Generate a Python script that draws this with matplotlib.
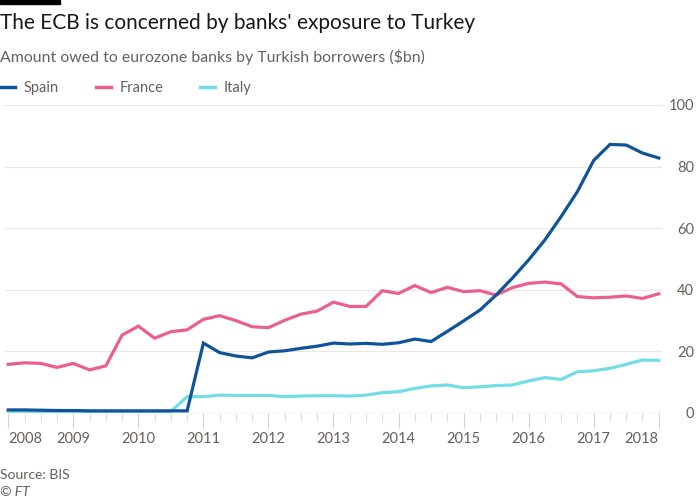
import numpy as np
import pandas as pd
import matplotlib
matplotlib.use("Agg")
import matplotlib.pyplot as plt
from matplotlib.lines import Line2D
from matplotlib.patches import Rectangle

plt.rcParams['font.family'] = ['Lato', 'DejaVu Sans']

# quarterly, 2008 Q1 .. 2018 Q1 ($bn)
quarters = pd.period_range('2008Q1', '2018Q1', freq='Q')

spain = [1.0, 1.0, 0.9, 0.8, 0.8, 0.7, 0.7, 0.7, 0.7, 0.7, 0.7, 0.7,
         22.7, 19.6, 18.5, 17.9, 19.8, 20.2, 21.0, 21.7, 22.7, 22.4, 22.6,
         22.3, 22.8, 24.0, 23.2, 26.5, 29.9, 33.4, 38.3, 43.8, 49.7, 56.2,
         63.8, 71.9, 82.0, 87.2, 87.0, 84.4, 82.8]
france = [15.8, 16.3, 16.1, 14.8, 16.1, 14.0, 15.3, 25.3, 28.2, 24.3, 26.4,
          27.0, 30.4, 31.6, 30.0, 28.0, 27.7, 30.1, 32.1, 33.1, 36.0, 34.6,
          34.6, 39.7, 38.8, 41.4, 39.1, 40.8, 39.4, 39.7, 38.3, 40.7, 42.1,
          42.5, 41.9, 37.8, 37.4, 37.6, 38.0, 37.2, 38.7]
italy = [0.6, 0.6, 0.5, 0.5, 0.5, 0.5, 0.5, 0.5, 0.5, 0.5, 0.5, 5.3, 5.3,
         5.8, 5.7, 5.7, 5.7, 5.3, 5.5, 5.6, 5.6, 5.5, 5.8, 6.6, 6.9, 8.0,
         8.8, 9.1, 8.2, 8.5, 8.9, 9.1, 10.4, 11.5, 10.9, 13.4, 13.7, 14.5,
         15.8, 17.2, 17.1]

series_names = ['Spain', 'France', 'Italy']
series_colors = ['#0f5499', '#eb5f8e', '#72dde8']
yticks = [0, 20, 40, 60, 80, 100]

GRAY = '#66605c'
GRID = '#ede6de'

fig = plt.figure(figsize=(7, 5), dpi=100)
fig.patch.set_facecolor('white')
ax = fig.add_axes([5 / 700, 87 / 500, 657 / 700, 308 / 500])

x = np.arange(len(quarters))
for vals, name, col in zip([spain, france, italy], series_names, series_colors):
    ax.plot(x, vals, color=col, lw=2.3, label=name, solid_joinstyle='miter')
# Spain sits on top of Italy at the start
ax.lines[0].set_zorder(4)

ax.set_xlim(-0.2, len(quarters) - 0.8)
ax.set_ylim(0, 100)

for s in ax.spines.values():
    s.set_visible(False)
ax.axhline(0, color='#d9cfc5', lw=1, zorder=0)
for t in yticks[1:]:
    ax.axhline(t, color=GRID, lw=0.8, zorder=0)

# y labels on the right, right-aligned
ax.yaxis.tick_right()
ax.set_yticks(yticks)
ax.set_yticklabels([str(t) for t in yticks])
ax.tick_params(axis='y', length=0, pad=23, labelsize=10.5, labelcolor=GRAY)
for lab in ax.get_yticklabels():
    lab.set_horizontalalignment('right')

# x: year ticks at Q1, quarter minor ticks
year_pos = [i for i, q in enumerate(quarters) if q.quarter == 1]
year_lab = [str(quarters[i].year) for i in year_pos]
ax.set_xticks(year_pos)
ax.set_xticklabels(year_lab)
ax.set_xticks(x, minor=True)
ax.tick_params(axis='x', which='major', length=11, width=0.8, color='#d9cfc5',
               pad=3, labelsize=10.5, labelcolor=GRAY)
ax.tick_params(axis='x', which='minor', length=6, width=0.8, color='#e3dad0')
xl = ax.get_xticklabels()
xl[0].set_horizontalalignment('left')
xl[-1].set_horizontalalignment('right')

# header
fig.patches.append(Rectangle((0, 496 / 500), 60 / 700, 4 / 500,
                             transform=fig.transFigure, color='black'))
fig.text(0.0, 1 - 23 / 500, "The ECB is concerned by banks' exposure to Turkey",
         fontsize=15, color='#1a1817', va='center', ha='left')
fig.text(0.0, 1 - 57 / 500, 'Amount owed to eurozone banks by Turkish borrowers ($bn)',
         fontsize=11.4, color=GRAY, va='center', ha='left')

handles = [Line2D([], [], color=c, lw=2.5) for c in series_colors]
fig.legend(handles, series_names, loc='center left',
           bbox_to_anchor=(0.0, 1 - 88 / 500), ncol=3, frameon=False,
           fontsize=10.5, labelcolor=GRAY, handlelength=1.05, handletextpad=0.6,
           columnspacing=2.5, borderpad=0, borderaxespad=0)

fig.text(0.0, 1 - 475 / 500, 'Source: BIS', fontsize=10, color=GRAY, va='center')
fig.text(0.0, 1 - 492 / 500, '\u00a9 FT', fontsize=10, color=GRAY, va='center',
         style='italic')

fig.savefig('out.png', dpi=100, facecolor='white')
